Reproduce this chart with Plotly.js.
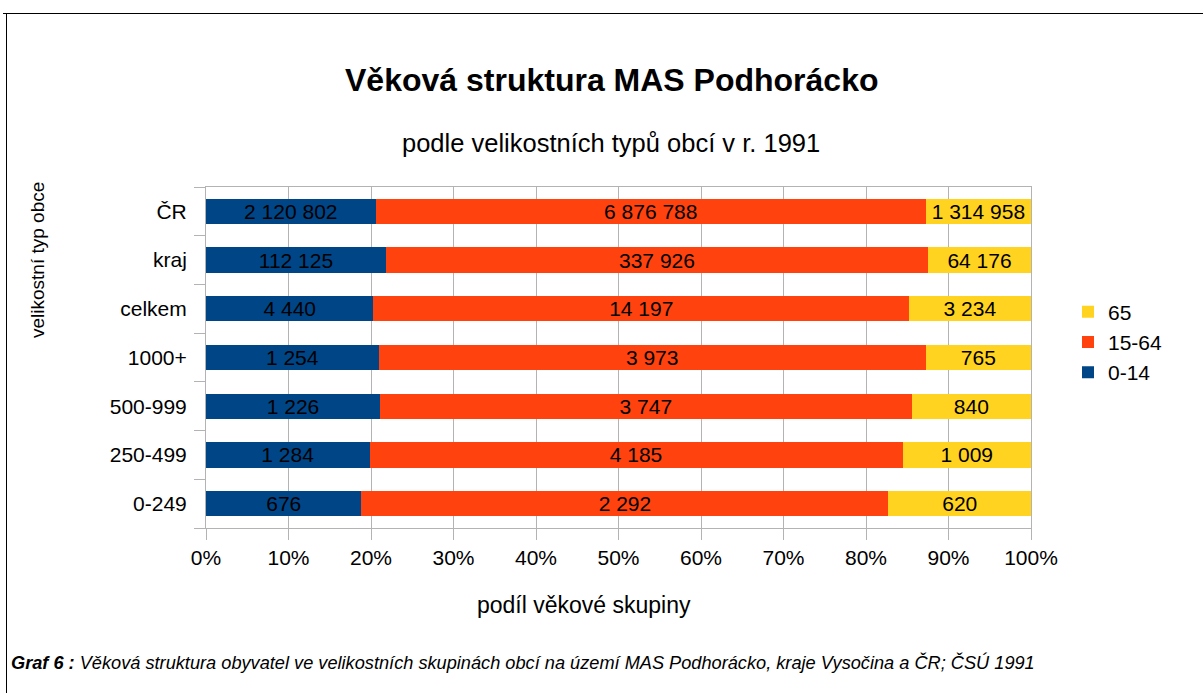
<!DOCTYPE html>
<html><head><meta charset="utf-8">
<script src="https://cdn.plot.ly/plotly-3.0.1.min.js"></script>
<style>html,body{margin:0;padding:0;background:#fff}#chart{width:1203px;height:693px}</style>
</head><body><div id="chart"></div>
<script>
const categories = ['0-249','250-499','500-999','1000+','celkem','kraj','ČR'];
const age0_14 = [676, 1284, 1226, 1254, 4440, 112125, 2120802];
const age15_64 = [2292, 4185, 3747, 3973, 14197, 337926, 6876788];
const age65 = [620, 1009, 840, 765, 3234, 64176, 1314958];
const seriesNames = ['0-14','15-64','65'];
const colors = ['#004586','#ff420e','#ffd320'];
const xTicks = [0,10,20,30,40,50,60,70,80,90,100];

function fmt(v){ return String(v).replace(/\B(?=(\d{3})+(?!\d))/g, ' '); }

const W = 1203, H = 693, L = 206, R = 1031, T = 187, B = 528;
const px = x => (x - L) / (R - L);
const py = y => (B - y) / (B - T);

const font = 'Liberation Sans, Arial, sans-serif';
const data = [age0_14, age15_64, age65].map((vals, i) => ({
  type: 'bar', orientation: 'h', y: categories, x: vals, name: seriesNames[i],
  marker: {color: colors[i]},
  text: vals.map(fmt), textposition: 'inside', insidetextanchor: 'middle',
  textangle: 0, constraintext: 'none',
  textfont: {family: font, size: 21, color: '#000'},
  hoverinfo: 'none'
}));

const layout = {
  width: W, height: H,
  margin: {l: L, r: W - R, t: T, b: H - B, pad: 0},
  paper_bgcolor: '#fff', plot_bgcolor: '#fff',
  barmode: 'stack', barnorm: 'percent', bargap: 0.48,
  font: {family: font, color: '#000'},
  showlegend: true,
  legend: {x: px(1068), y: py(342), xanchor: 'left', yanchor: 'middle',
    traceorder: 'reversed', font: {family: font, size: 21, color: '#000'},
    itemwidth: 30, tracegroupgap: 0, bgcolor: 'rgba(0,0,0,0)'},
  xaxis: {range: [0, 100], tickvals: xTicks, ticktext: xTicks.map(v => v + '%'),
    showgrid: true, gridcolor: '#b3b3b3', gridwidth: 1,
    ticks: 'outside', ticklen: 11, tickcolor: '#b3b3b3',
    showline: true, linecolor: '#b3b3b3', mirror: true, zeroline: false,
    tickfont: {family: font, size: 21, color: '#000'}, fixedrange: true},
  yaxis: {type: 'category', categoryorder: 'array', categoryarray: categories,
    tickson: 'boundaries', ticks: 'outside', ticklen: 11, tickcolor: '#b3b3b3',
    showline: true, linecolor: '#b3b3b3', mirror: true, showgrid: false,
    tickfont: {family: font, size: 21, color: '#000'}, ticklabelstandoff: 14, fixedrange: true},
  annotations: [
    {text: '<b>Věková struktura MAS Podhorácko</b>', xref: 'paper', yref: 'paper',
     x: px(611), y: py(80), xanchor: 'center', yanchor: 'middle', showarrow: false,
     font: {family: font, size: 32, color: '#000'}},
    {text: 'podle velikostních typů obcí v r. 1991', xref: 'paper', yref: 'paper',
     x: px(611), y: py(143), xanchor: 'center', yanchor: 'middle', showarrow: false,
     font: {family: font, size: 25.5, color: '#000'}},
    {text: 'podíl věkové skupiny', xref: 'paper', yref: 'paper',
     x: px(584), y: py(605), xanchor: 'center', yanchor: 'middle', showarrow: false,
     font: {family: font, size: 23, color: '#000'}},
    {text: 'velikostní typ obce', xref: 'paper', yref: 'paper', textangle: -90,
     x: px(37), y: py(260), xanchor: 'center', yanchor: 'middle', showarrow: false,
     font: {family: font, size: 19, color: '#000'}},
    {text: '<b><i>Graf 6 :</i></b><i> Věková struktura obyvatel ve velikostních skupinách obcí na území MAS Podhorácko, kraje Vysočina a ČR; ČSÚ 1991</i>',
     xref: 'paper', yref: 'paper', x: px(9), y: py(662), xanchor: 'left', yanchor: 'middle',
     showarrow: false, font: {family: font, size: 18.2, color: '#000'}}
  ],
  shapes: [
    {type: 'line', xref: 'paper', yref: 'paper', x0: px(3), x1: px(1203), y0: py(13.5), y1: py(13.5),
     line: {color: '#000', width: 1}},
    {type: 'line', xref: 'paper', yref: 'paper', x0: px(6.5), x1: px(6.5), y0: py(13), y1: py(693),
     line: {color: '#000', width: 1}}
  ]
};

Plotly.newPlot('chart', data, layout, {staticPlot: true, displayModeBar: false});
</script></body></html>
